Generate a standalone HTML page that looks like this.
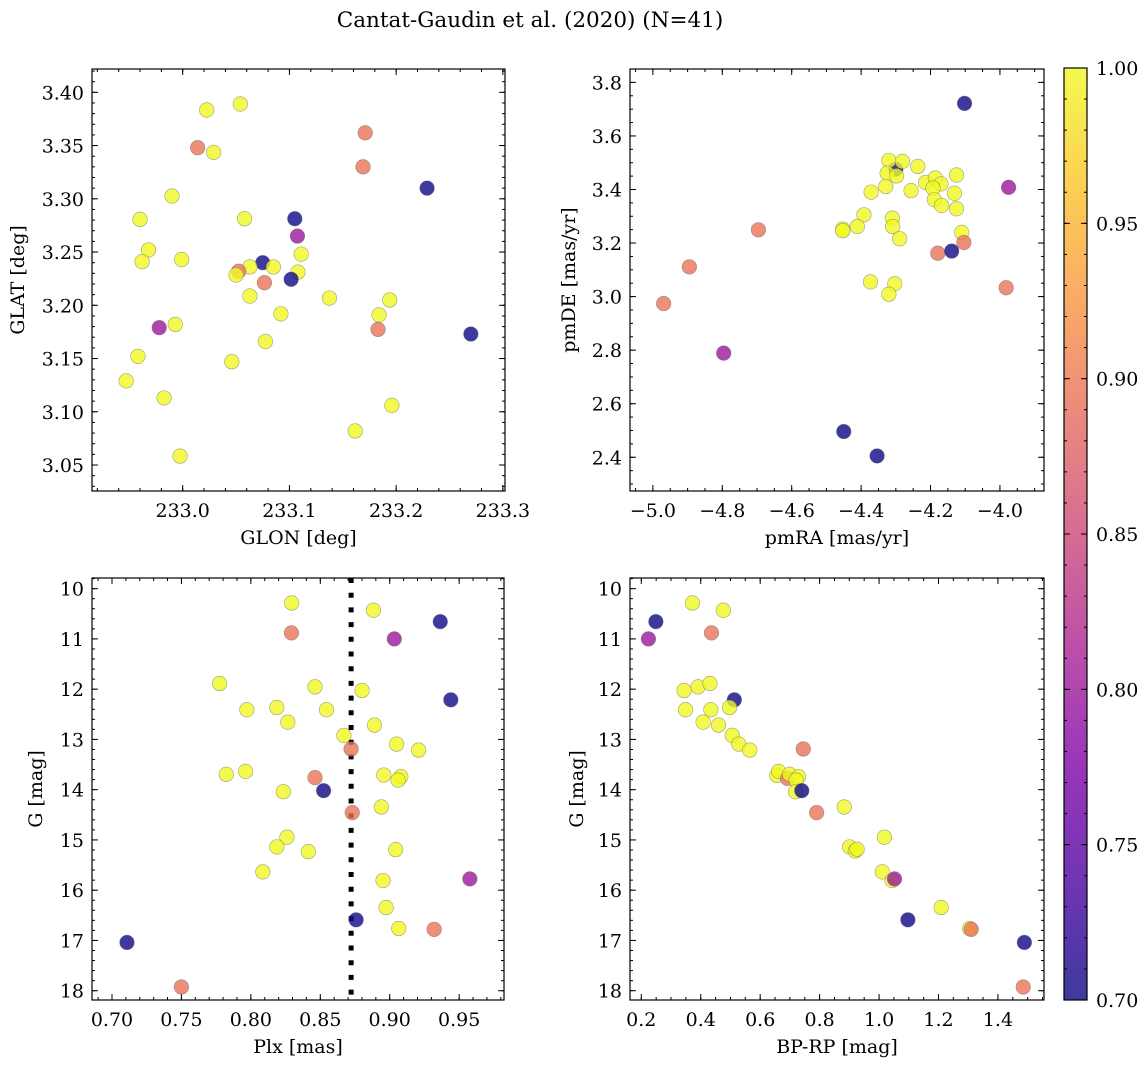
<!DOCTYPE html>
<html><head><meta charset="utf-8">
<style>
html,body{margin:0;padding:0;background:#fff;}
svg{display:block;font-family:"DejaVu Serif","Liberation Serif",serif;}
</style></head>
<body>
<svg id="fig" width="1148" height="1068" viewBox="0 0 1148 1068" xmlns="http://www.w3.org/2000/svg">
<rect x="0" y="0" width="1148" height="1068" fill="#fff"/>
<text x="530" y="27" text-anchor="middle" font-size="21.5">Cantat-Gaudin et al. (2020) (N=41)</text>
<defs>
<linearGradient id="plasmaGrad" x1="0" y1="1" x2="0" y2="0">
<stop offset="0" stop-color="#0d0887"/><stop offset="0.125" stop-color="#4c02a1"/><stop offset="0.25" stop-color="#7e03a8"/><stop offset="0.375" stop-color="#a92395"/><stop offset="0.5" stop-color="#cc4778"/><stop offset="0.625" stop-color="#e56b5d"/><stop offset="0.75" stop-color="#f89540"/><stop offset="0.875" stop-color="#fdc328"/><stop offset="1" stop-color="#f0f921"/>
</linearGradient>
</defs>
</svg>
<script>
// ---- Panel 1: GLON / GLAT ----
const glon = [233.0225,233.054,233.014,233.029,233.171,233.169,233.229,232.990,232.960,233.058,233.105,233.1075,232.968,233.111,232.962,232.999,233.075,233.085,233.063,233.0525,233.050,233.108,233.1016,233.0766,233.063,233.1375,233.194,233.092,233.184,232.993,232.978,233.183,233.27,233.0775,232.958,233.046,232.947,232.9825,233.196,233.1616,232.9975];
const glat = [3.3834,3.389,3.348,3.3436,3.362,3.330,3.310,3.3026,3.2807,3.2813,3.2813,3.265,3.252,3.248,3.241,3.243,3.240,3.236,3.236,3.232,3.2284,3.2312,3.2244,3.2212,3.2087,3.2068,3.205,3.192,3.191,3.182,3.179,3.1774,3.173,3.166,3.152,3.147,3.129,3.113,3.106,3.082,3.0584];
const prob1 = [1,1,0.895,1,0.895,0.895,0.70,1,1,1,0.70,0.80,1,1,1,1,0.70,1,1,0.895,1,1,0.70,0.895,1,1,1,1,1,1,0.80,0.895,0.70,1,1,1,1,1,1,1,1];
// ---- Panel 2: pmRA / pmDE ----
const pmra = [-4.30,-4.102,-4.320,-4.281,-4.2365,-4.325,-4.298,-4.125,-4.214,-4.186,-4.170,-4.193,-4.329,-4.256,-4.371,-4.131,-4.189,-4.168,-4.125,-4.392,-4.310,-4.411,-4.309,-4.453,-4.453,-4.289,-4.110,-4.104,-4.179,-4.139,-4.696,-4.895,-4.969,-3.982,-3.975,-4.796,-4.373,-4.303,-4.320,-4.450,-4.354];
const pmde = [3.476,3.7215,3.5086,3.505,3.486,3.461,3.451,3.454,3.426,3.443,3.421,3.405,3.411,3.396,3.390,3.386,3.362,3.340,3.328,3.3055,3.293,3.262,3.262,3.252,3.246,3.216,3.240,3.202,3.162,3.170,3.2495,3.111,2.974,3.033,3.408,2.789,3.055,3.048,3.009,2.496,2.405];
const prob2 = [0.70,0.70,1,1,1,1,1,1,1,1,1,1,1,1,1,1,1,1,1,1,1,1,1,1,1,1,1,0.895,0.895,0.70,0.895,0.895,0.895,0.895,0.80,0.80,1,1,1,0.70,0.70];
// ---- Panels 3/4: Plx, BP-RP vs G ----
const plx = [0.8294,0.8883,0.9364,0.8292,0.9033,0.7775,0.8462,0.8801,0.944,0.7971,0.8187,0.8545,0.8266,0.889,0.867,0.905,0.9208,0.8722,0.7823,0.7962,0.8462,0.8957,0.908,0.906,0.8234,0.8524,0.894,0.873,0.826,0.8187,0.8414,0.9043,0.8086,0.8952,0.9577,0.8974,0.8758,0.9065,0.932,0.7108,0.75];
const gmag3 = [10.285,10.43,10.656,10.88,11.0,11.887,11.954,12.026,12.212,12.41,12.364,12.41,12.656,12.715,12.92,13.093,13.212,13.19,13.695,13.636,13.76,13.709,13.74,13.81,14.04,14.02,14.344,14.457,14.947,15.139,15.232,15.192,15.636,15.808,15.775,16.344,16.589,16.762,16.78,17.04,17.927];
const prob3 = [1,1,0.70,0.895,0.80,1,1,1,0.70,1,1,1,1,1,1,1,1,0.895,1,1,0.895,1,1,1,1,0.70,1,0.895,1,1,1,1,1,1,0.80,1,0.70,1,0.895,0.70,0.895];
const bprp = [0.372,0.476,0.249,0.436,0.224,0.344,0.391,0.431,0.513,0.349,0.434,0.497,0.408,0.460,0.506,0.528,0.565,0.745,0.656,0.662,0.692,0.699,0.729,0.721,0.719,0.740,0.883,0.790,1.018,0.901,0.920,0.926,1.011,1.044,1.052,1.209,1.097,1.305,1.310,1.489,1.485];
const gmag4 = [10.285,10.43,10.656,10.88,11.0,12.026,11.954,11.887,12.212,12.41,12.41,12.364,12.656,12.715,12.92,13.093,13.212,13.19,13.715,13.636,13.775,13.695,13.74,13.81,14.04,14.02,14.344,14.457,14.947,15.139,15.22,15.185,15.636,15.808,15.775,16.344,16.589,16.762,16.78,17.04,17.927];
const prob4 = [1,1,0.70,0.895,0.80,1,1,1,0.70,1,1,1,1,1,1,1,1,0.895,1,1,0.895,1,1,1,1,0.70,1,0.895,1,1,1,1,1,1,0.80,1,0.70,1,0.895,0.70,0.895];
const plxLine = 0.8722;
const cbTicks = [0.70,0.75,0.80,0.85,0.90,0.95,1.00];

const NS = "http://www.w3.org/2000/svg";
const svg = document.getElementById('fig');
const stops = [[0,[13,8,135]],[0.125,[76,2,161]],[0.25,[126,3,168]],[0.375,[169,35,149]],[0.5,[204,71,120]],[0.625,[229,107,93]],[0.75,[248,149,64]],[0.875,[253,195,40]],[1,[240,249,33]]];
function plasma(v){
  const t = Math.max(0, Math.min(1, (v - 0.7) / 0.3));
  for (let i = 1; i < stops.length; i++) {
    if (t <= stops[i][0]) {
      const a = stops[i-1], b = stops[i];
      const f = (t - a[0]) / (b[0] - a[0]);
      const c = a[1].map((x, k) => Math.round(x + (b[1][k] - x) * f));
      return 'rgb(' + c.join(',') + ')';
    }
  }
  return 'rgb(240,249,33)';
}
function mk(tag, attrs, parent){
  const e = document.createElementNS(NS, tag);
  for (const k in attrs) e.setAttribute(k, attrs[k]);
  (parent || svg).appendChild(e);
  return e;
}
function ticksArr(lo, hi, step){
  const out = [];
  const s = Math.ceil(lo / step - 1e-6);
  for (let i = s; i * step <= hi + 1e-9; i++) out.push(+(i * step).toFixed(6));
  return out;
}
const FS = 19;
function panel(o){
  const g = mk('g', {});
  
  
  const sx = v => o.x0 + (v - o.xmin) / (o.xmax - o.xmin) * o.w;
  const sy = v => o.y0 + (o.ytop - v) / (o.ytop - o.ybot) * o.h;
  const xlo = Math.min(o.xmin, o.xmax), xhi = Math.max(o.xmin, o.xmax);
  const ylo = Math.min(o.ytop, o.ybot), yhi = Math.max(o.ytop, o.ybot);
  ticksArr(xlo, xhi, o.xminor).forEach(v => {
    const x = sx(v);
    mk('line', {x1:x, x2:x, y1:o.y0+o.h, y2:o.y0+o.h-3, stroke:'#000','stroke-width':1}, g);
    mk('line', {x1:x, x2:x, y1:o.y0, y2:o.y0+3, stroke:'#000','stroke-width':1}, g);
  });
  ticksArr(ylo, yhi, o.yminor).forEach(v => {
    const y = sy(v);
    mk('line', {x1:o.x0, x2:o.x0+3, y1:y, y2:y, stroke:'#000','stroke-width':1}, g);
    mk('line', {x1:o.x0+o.w, x2:o.x0+o.w-3, y1:y, y2:y, stroke:'#000','stroke-width':1}, g);
  });
  ticksArr(xlo, xhi, o.xmajor).forEach(v => {
    const x = sx(v);
    mk('line', {x1:x, x2:x, y1:o.y0+o.h, y2:o.y0+o.h-6, stroke:'#000','stroke-width':1}, g);
    mk('line', {x1:x, x2:x, y1:o.y0, y2:o.y0+6, stroke:'#000','stroke-width':1}, g);
    const t = mk('text', {x:x, y:o.y0+o.h+26, 'text-anchor':'middle','font-size':FS}, g);
    
    
    t.textContent = o.xfmt(v);
  });
  ticksArr(ylo, yhi, o.ymajor).forEach(v => {
    const y = sy(v);
    mk('line', {x1:o.x0, x2:o.x0+6, y1:y, y2:y, stroke:'#000','stroke-width':1}, g);
    mk('line', {x1:o.x0+o.w, x2:o.x0+o.w-6, y1:y, y2:y, stroke:'#000','stroke-width':1}, g);
    const t = mk('text', {x:o.x0-8, y:y+7, 'text-anchor':'end','font-size':FS}, g);
    
    
    t.textContent = o.yfmt(v);
  });
  if (o.extra) o.extra(g, sx, sy);
  o.xs.forEach((xv, i) => {
    const c = mk('circle', {cx:sx(xv), cy:sy(o.ys[i]), r:7.3, fill:plasma(o.ps[i]), 'fill-opacity':0.8, stroke:'#666','stroke-opacity':0.6,'stroke-width':0.6}, g);
    
    
  });
  const fr = mk('rect', {x:o.x0, y:o.y0, width:o.w, height:o.h, fill:'none', stroke:'#000','stroke-width':1.2}, g);
  
  
  const xl = mk('text', {x:o.x0+o.w/2, y:o.y0+o.h+53, 'text-anchor':'middle','font-size':FS}, g);
  
  
  xl.textContent = o.xlabel;
  const yl = mk('text', {x:0, y:0, 'text-anchor':'middle','font-size':FS, transform:'translate('+o.ylx+','+(o.y0+o.h/2)+') rotate(-90)'}, g);
  
  
  yl.textContent = o.ylabel;
}
const f2 = v => v.toFixed(2), f1 = v => v.toFixed(1), f0 = v => v.toFixed(0);
const neg = v => (v < 0 ? '\u2212' + Math.abs(v).toFixed(1) : v.toFixed(1));

panel({name:'glon-glat-panel', x0:92, y0:69, w:413, h:422, xmin:232.915, xmax:233.302, ytop:3.4219, ybot:3.0256,
  xmajor:0.1, xminor:0.02, ymajor:0.05, yminor:0.01, xfmt:f1, yfmt:f2, xlabel:'GLON [deg]', ylabel:'GLAT [deg]', ylx:24,
  xs:glon, ys:glat, ps:prob1});
panel({name:'proper-motion-panel', x0:630, y0:69, w:414, h:422, xmin:-5.066, xmax:-3.873, ytop:3.85, ybot:2.274,
  xmajor:0.2, xminor:0.05, ymajor:0.2, yminor:0.05, xfmt:neg, yfmt:f1, xlabel:'pmRA [mas/yr]', ylabel:'pmDE [mas/yr]', ylx:575,
  xs:pmra, ys:pmde, ps:prob2});
panel({name:'parallax-g-panel', x0:92, y0:578, w:412, h:422, xmin:0.6856, xmax:0.9823, ytop:9.788, ybot:18.185,
  xmajor:0.05, xminor:0.01, ymajor:1, yminor:0.2, xfmt:f2, yfmt:f0, xlabel:'Plx [mas]', ylabel:'G [mag]', ylx:42,
  xs:plx, ys:gmag3, ps:prob3,
  extra:(g, sx, sy) => {
    const x = sx(plxLine);
    const l = mk('line', {x1:x, x2:x, y1:578, y2:1000, stroke:'#000','stroke-width':5,'stroke-dasharray':'5 9.7'}, g);
    
    
  }});
panel({name:'color-magnitude-panel', x0:630, y0:578, w:414, h:422, xmin:0.162, xmax:1.555, ytop:9.788, ybot:18.185,
  xmajor:0.2, xminor:0.05, ymajor:1, yminor:0.2, xfmt:f1, yfmt:f0, xlabel:'BP-RP [mag]', ylabel:'G [mag]', ylx:583,
  xs:bprp, ys:gmag4, ps:prob4});

// colorbar
const cb = mk('g', {});


const cbx = 1064, cbw = 23, cbt = 68, cbb = 1000;
mk('rect', {x:cbx, y:cbt, width:cbw, height:cbb-cbt, fill:'url(#plasmaGrad)', 'fill-opacity':0.8}, cb);
const cy = v => cbb - (v - 0.7) / 0.3 * (cbb - cbt);
ticksArr(0.7, 1.0, 0.01).forEach(v => {
  mk('line', {x1:cbx, x2:cbx+3, y1:cy(v), y2:cy(v), stroke:'#000','stroke-width':1}, cb);
  mk('line', {x1:cbx+cbw, x2:cbx+cbw-3, y1:cy(v), y2:cy(v), stroke:'#000','stroke-width':1}, cb);
});
cbTicks.forEach(v => {
  mk('line', {x1:cbx, x2:cbx+6, y1:cy(v), y2:cy(v), stroke:'#000','stroke-width':1}, cb);
  mk('line', {x1:cbx+cbw, x2:cbx+cbw-6, y1:cy(v), y2:cy(v), stroke:'#000','stroke-width':1}, cb);
  const t = mk('text', {x:cbx+cbw+9, y:cy(v)+7, 'font-size':FS}, cb);
  
  
  t.textContent = v.toFixed(2);
});
mk('rect', {x:cbx, y:cbt, width:cbw, height:cbb-cbt, fill:'none', stroke:'#000','stroke-width':1.2}, cb);
</script>
</body></html>
